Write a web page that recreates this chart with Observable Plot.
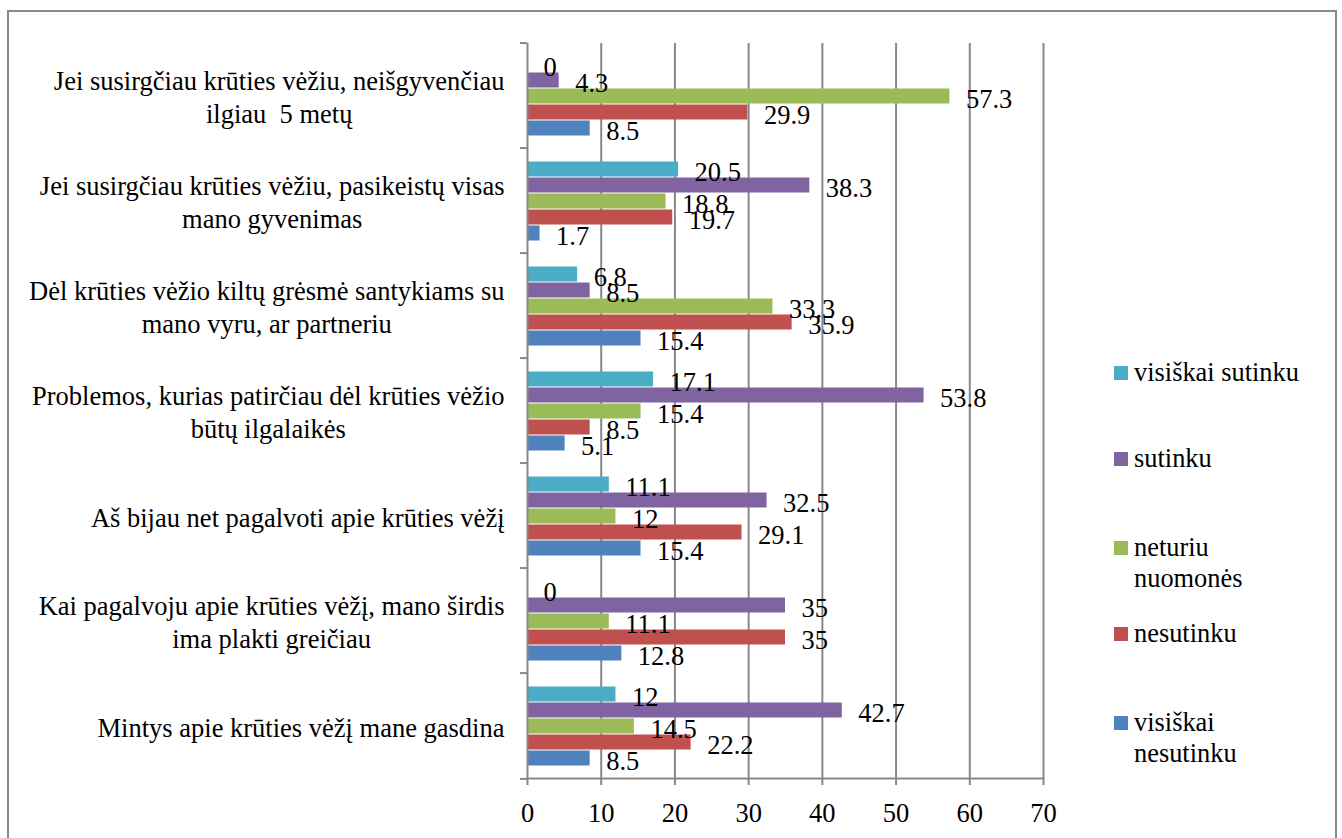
<!DOCTYPE html>
<html>
<head>
<meta charset="utf-8">
<script src="https://cdn.jsdelivr.net/npm/d3@7"></script>
<script src="https://cdn.jsdelivr.net/npm/@observablehq/plot@0.6"></script>
<style>
  body { margin: 0; background: #fff; }
  #wrap { position: relative; width: 1342px; height: 838px; overflow: hidden; font-family: "Liberation Serif", "Times New Roman", serif; }
  #wrap svg text { white-space: pre; }
  #border { position: absolute; left: 7px; top: 10px; width: 1330px; height: 860px; border: 2px solid #8a8a8a; box-sizing: border-box; pointer-events: none; }
  #legend { position: absolute; left: 1114px; top: 0; font-size: 26.4px; line-height: 31px; color: #000; }
  .item { position: absolute; left: 0; display: flex; align-items: flex-start; }
  .sw { width: 14px; height: 14px; margin-top: 9px; margin-right: 6px; flex: none; }
  .lbl { width: 180px; }
</style>
</head>
<body>
<div id="wrap">
  <div id="chart"></div>
  <div id="legend"></div>
  <div id="border"></div>
</div>
<script>
const categories = [
  "Jei susirgčiau krūties vėžiu, neišgyvenčiau\nilgiau  5 metų",
  "Jei susirgčiau krūties vėžiu, pasikeistų visas\nmano gyvenimas",
  "Dėl krūties vėžio kiltų grėsmė santykiams su\nmano vyru, ar partneriu",
  "Problemos, kurias patirčiau dėl krūties vėžio\nbūtų ilgalaikės",
  "Aš bijau net pagalvoti apie krūties vėžį",
  "Kai pagalvoju apie krūties vėžį, mano širdis\nima plakti greičiau",
  "Mintys apie krūties vėžį mane gasdina"
];
const series = ["visiškai sutinku", "sutinku", "neturiu nuomonės", "nesutinku", "visiškai nesutinku"];
const seriesColors = ["#4BACC6", "#8064A2", "#9BBB59", "#C0504D", "#4F81BD"];

const visiskaiSutinku   = [0, 20.5, 6.8, 17.1, 11.1, 0, 12];
const sutinku           = [4.3, 38.3, 8.5, 53.8, 32.5, 35, 42.7];
const neturiuNuomones   = [57.3, 18.8, 33.3, 15.4, 12, 11.1, 14.5];
const nesutinku         = [29.9, 19.7, 35.9, 8.5, 29.1, 35, 22.2];
const visiskaiNesutinku = [8.5, 1.7, 15.4, 5.1, 15.4, 12.8, 8.5];

const xTicks = [0, 10, 20, 30, 40, 50, 60, 70];
const legendTops = [356.5, 442.5, 531.5, 617.5, 706.5];

const valuesBySeries = [visiskaiSutinku, sutinku, neturiuNuomones, nesutinku, visiskaiNesutinku];
const rows = [];
categories.forEach((c, i) => series.forEach((s, j) => rows.push({category: c, series: s, value: valuesBySeries[j][i]})));

const W = 1342, H = 838, mT = 40, mB = 57, mL = 527, mR = 299, FS = 26.5;
const fh = (H - mT - mB) / categories.length;
const grid = "#888888";

const ctx = document.createElement("canvas").getContext("2d");
ctx.font = `${FS}px "Liberation Serif"`;
const blockWidth = s => Math.max(...s.split("\n").map(l => ctx.measureText(l).width));

const labelMarks = categories.map(c => Plot.text([c], {
  fy: d => d, text: d => d, frameAnchor: "left", textAnchor: "middle",
  lineHeight: 1.25, dx: -(23 + blockWidth(c) / 2), fill: "black"
}));

const chart = Plot.plot({
  width: W, height: H,
  marginTop: mT, marginBottom: mB, marginLeft: mL, marginRight: mR,
  style: {fontFamily: '"Liberation Serif", "Times New Roman", serif', fontSize: FS + "px", background: "transparent", color: "black"},
  x: {domain: [0, 70]},
  y: {domain: series, paddingInner: 0, paddingOuter: 0.76, axis: null},
  fy: {domain: categories, padding: 0, label: null},
  color: {domain: series, range: seriesColors},
  marks: [
    Plot.ruleX(xTicks.slice(1), {stroke: grid, strokeWidth: 2}),
    Plot.barX(rows, {x: "value", y: "series", fy: "category", fill: "series", insetTop: 0.5, insetBottom: 0.5}),
    Plot.ruleX([0], {stroke: grid, strokeWidth: 2}),
    Plot.text(rows, {x: "value", y: "series", fy: "category", text: d => String(d.value), textAnchor: "start", dx: 16, dy: 3, fill: "black"}),
    Plot.frame({anchor: "bottom", facetAnchor: "bottom", stroke: grid, strokeWidth: 2}),
    Plot.axisX({ticks: xTicks, tickSize: 7, tickPadding: 18, stroke: grid, strokeWidth: 2, fill: "black", label: null, tickFormat: d => String(d)}),
    Plot.axisFy({anchor: "left", tickSize: 7, tickFormat: () => "", dy: -fh / 2, stroke: grid, strokeWidth: 2, label: null}),
    Plot.axisFy({anchor: "left", ticks: [categories[categories.length - 1]], tickSize: 7, tickFormat: () => "", dy: fh / 2, stroke: grid, strokeWidth: 2, label: null}),
    ...labelMarks
  ]
});
document.getElementById("chart").appendChild(chart);

const legend = document.getElementById("legend");
series.forEach((s, j) => {
  const item = document.createElement("div");
  item.className = "item";
  item.style.top = legendTops[j] + "px";
  item.innerHTML = `<div class="sw" style="background:${seriesColors[j]}"></div><div class="lbl">${s}</div>`;
  legend.appendChild(item);
});
</script>
</body>
</html>
